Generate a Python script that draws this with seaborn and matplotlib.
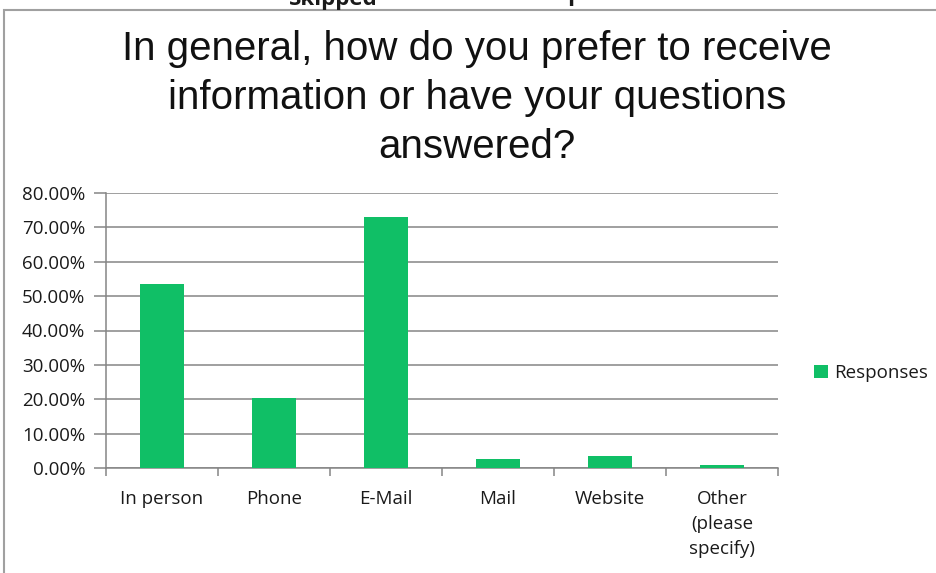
import matplotlib
matplotlib.use("Agg")
import matplotlib.pyplot as plt
from matplotlib.patches import Rectangle
from matplotlib.ticker import FixedLocator, FuncFormatter
import pandas as pd
import seaborn as sns

categories = ["In person", "Phone", "E-Mail", "Mail", "Website", "Other\n(please\nspecify)"]
responses = [53.4, 20.5, 73.1, 2.6, 3.5, 0.8]
y_ticks = [0, 10, 20, 30, 40, 50, 60, 70, 80]
title = "In general, how do you prefer to receive\ninformation or have your questions\nanswered?"
series_name = "Responses"

bar_color = "#10BF66"
grid_color = "#858585"
text_color = "#1a1a1a"

sns.set_theme(style="white")
plt.rcParams["font.family"] = ["Open Sans", "DejaVu Sans"]

df = pd.DataFrame({"category": categories, "value": responses, "series": series_name})

fig = plt.figure(figsize=(9.36, 5.73), dpi=100)
ax = fig.add_axes([106 / 936, 1 - 468 / 573, (778 - 106) / 936, 275 / 573])

sns.barplot(data=df, x="category", y="value", hue="series", palette=[bar_color],
            width=0.4, saturation=1, ax=ax, legend=True, zorder=3,
            linewidth=0, edgecolor=bar_color)

ax.set_ylim(0, 80)
ax.set_xlim(-0.5, len(categories) - 0.5)
ax.set_yticks(y_ticks)
ax.yaxis.set_major_formatter(FuncFormatter(lambda v, p: f"{v:.2f}%"))
ax.set_axisbelow(True)
ax.yaxis.grid(True, color=grid_color, linewidth=1.1)
ax.set_xlabel("")
ax.set_ylabel("")

for side in ["top", "right"]:
    ax.spines[side].set_visible(False)
for side in ["left", "bottom"]:
    ax.spines[side].set_color(grid_color)
    ax.spines[side].set_linewidth(1.1)
    ax.spines[side].set_zorder(2)

ax.tick_params(axis="y", which="major", left=True, length=9, width=1.1, color=grid_color,
               labelsize=13.5, labelcolor=text_color, pad=6)
ax.tick_params(axis="x", which="major", bottom=False, labelsize=13.5,
               labelcolor=text_color, pad=10)
ax.xaxis.set_minor_locator(FixedLocator([i - 0.5 for i in range(len(categories) + 1)]))
ax.tick_params(axis="x", which="minor", bottom=True, length=6, width=1.1, color=grid_color)
for lbl in ax.get_xticklabels():
    lbl.set_linespacing(1.5)

leg = ax.legend(loc="center left", bbox_to_anchor=((806 - 106) / (778 - 106), 0.345),
                frameon=False, fontsize=13.5, handlelength=0.75, handleheight=0.75,
                handletextpad=0.35, borderaxespad=0)
for t in leg.get_texts():
    t.set_color(text_color)

fig.text(477 / 936, 1 - 98 / 573, title, ha="center", va="center", fontsize=29,
         family=["Liberation Sans", "DejaVu Sans"], color="#111111", linespacing=1.36)

# outer chart frame
fig.patches.append(Rectangle((4 / 936, -0.01), 1.0, 1 - 10 / 573 + 0.01,
                             transform=fig.transFigure, fill=False,
                             edgecolor="#a0a0a0", linewidth=1.5))

# row of the survey table above the chart, cut off at the top edge
fig.text(333 / 936, 1.0, "Skipped", ha="center", va="center", fontsize=16,
         fontweight="bold", color=text_color)
fig.text(570 / 936, 1.0, "1", ha="center", va="center", fontsize=16,
         fontweight="bold", color=text_color)

fig.savefig("out.png", dpi=100)
